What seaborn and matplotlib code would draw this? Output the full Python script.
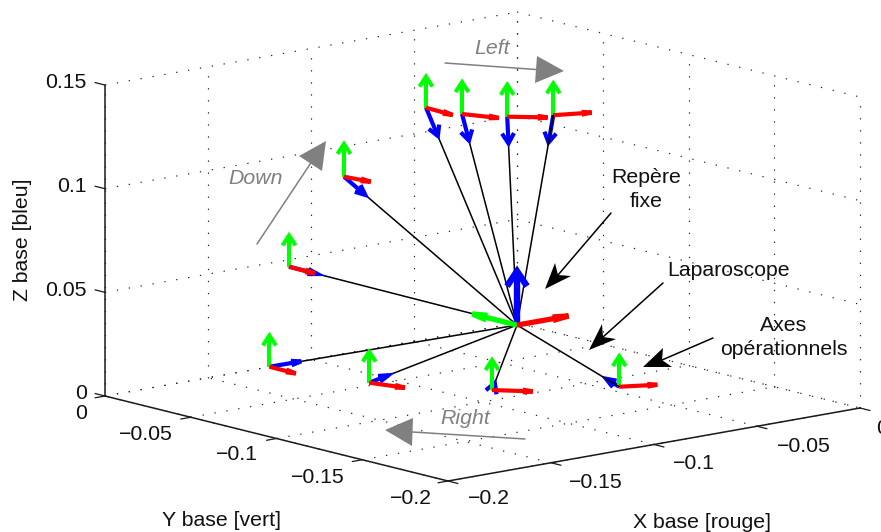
"""Laparoscope frames seen from an orthographic 3D view (drawn by hand on a 2D axes)."""
import matplotlib.pyplot as plt
import numpy as np
import pandas as pd
import seaborn as sns

X_TICKS = [-0.2, -0.15, -0.1, -0.05, 0]
Y_TICKS = [0, -0.05, -0.1, -0.15, -0.2]
Z_TICKS = [0, 0.05, 0.1, 0.15]
X_LABELS = ["\u22120.2", "\u22120.15", "\u22120.1", "\u22120.05", "0"]
Y_LABELS = ["0", "\u22120.05", "\u22120.1", "\u22120.15", "\u22120.2"]
Z_LABELS = ["0", "0.05", "0.1", "0.15"]

# operational frames, base coordinates (metres)
frame_x = [-0.0758, -0.0728, -0.0631, -0.0484, -0.1068, -0.1423, -0.1674, -0.1574, -0.1310, -0.0912]
frame_y = [-0.0380, -0.0554, -0.0701, -0.0793, -0.0274, -0.0380, -0.0567, -0.1029, -0.1428, -0.1692]
frame_z = [0.125, 0.125, 0.125, 0.125, 0.095, 0.06, 0.02, 0.02, 0.02, 0.02]
red_dx = [-0.0008, 0.0058, 0.0106, 0.0139, 0.0018, -0.0003, -0.0002, 0.0044, 0.0100, 0.0130]
red_dy = [-0.0165, -0.0144, -0.0108, -0.0056, -0.0134, -0.0155, -0.0156, -0.0155, -0.0117, -0.0065]
green_dz = [0.0150, 0.0154, 0.0154, 0.0154, 0.0158, 0.0151, 0.0151, 0.0150, 0.0145, 0.0148]
# blue axis points back to the fixed frame, as a fraction of the ray
blue_frac = [0.13, 0.126, 0.128, 0.13, 0.123, 0.125, 0.128, 0.13, 0.11, 0.13]
ray_on_top = [3, 9]

fixed_origin = (0.0, 0.0, -0.001)
fixed_red = 0.025
fixed_green = 0.026
fixed_blue = 0.026

RED, GREEN, BLUE = "#ff0000", "#00ff00", "#0000ff"
GRAY = "#808080"
FONT_SIZE = 15.3


def project(x, y, z):
    """Orthographic view of the base coordinates, in picture pixels."""
    return 517 + 2060 * x - 1715 * y, 323 - 365 * x - 425 * y - 2073 * z


def arrow(ax, start, tip, color, lw, head_len, head_half, zorder=3):
    p0, p1 = np.array(project(*start)), np.array(project(*tip))
    d = (p1 - p0) / np.linalg.norm(p1 - p0)
    n = np.array([-d[1], d[0]])
    b1, b2 = p1 - d * head_len + n * head_half, p1 - d * head_len - n * head_half
    ax.plot([p0[0], p1[0]], [p0[1], p1[1]], color=color, lw=lw, solid_capstyle="butt", zorder=zorder)
    ax.plot([b1[0], p1[0], b2[0]], [b1[1], p1[1], b2[1]], color=color, lw=lw,
            solid_capstyle="butt", solid_joinstyle="miter", zorder=zorder)


def dotted(ax, a, b):
    pa, pb = project(*a), project(*b)
    ax.plot([pa[0], pb[0]], [pa[1], pb[1]], color="#222222", lw=0.85,
            linestyle=(0, (1.1, 9.1)), zorder=1)


def draw_box(ax):
    top = Z_TICKS[-1]
    for x in X_TICKS:
        dotted(ax, (x, -0.2, 0), (x, 0, 0))
        dotted(ax, (x, 0, 0), (x, 0, top))
    for y in Y_TICKS:
        dotted(ax, (-0.2, y, 0), (0, y, 0))
        dotted(ax, (0, y, 0), (0, y, top))
    for z in Z_TICKS:
        dotted(ax, (-0.2, 0, z), (0, 0, z))
        dotted(ax, (0, 0, z), (0, -0.2, z))

    # solid axes
    corners = [(-0.2, 0, top), (-0.2, 0, 0), (-0.2, -0.2, 0), (0, -0.2, 0)]
    px, py = zip(*[project(*c) for c in corners])
    ax.plot(px, py, color="#1a1a1a", lw=1.1, zorder=2, solid_joinstyle="miter")

    # ticks, 10 px long, along the neighbouring axis
    for z in Z_TICKS:
        a = project(-0.2, 0, z)
        ax.plot([a[0], a[0] - 10], [a[1], a[1] - 2.5], color="#1a1a1a", lw=0.9)
    for y in Y_TICKS:
        a = project(-0.2, y, 0)
        ax.plot([a[0], a[0] - 10], [a[1], a[1] + 1.8], color="#1a1a1a", lw=0.9)
    for x in X_TICKS:
        a = project(x, -0.2, 0)
        ax.plot([a[0], a[0] + 10], [a[1], a[1] + 2.5], color="#1a1a1a", lw=0.9)


def draw_tick_labels(ax):
    kw = dict(fontsize=FONT_SIZE, va="center", color="#111111")
    for lab, yy in zip(Z_LABELS, [393.5, 290.5, 186.5, 82.5]):
        ax.text(87, yy, lab, ha="right", **kw)
    for lab, xx, yy in zip(Y_LABELS, [87, 173, 258, 345, 432], [413.5, 434.5, 454.5, 477.5, 498.5]):
        ax.text(xx, yy, lab, ha="right", **kw)
    for lab, xx, yy in zip(X_LABELS, [468, 569, 673, 777, 876], [498.5, 482.5, 463.5, 446.5, 428.5]):
        ax.text(xx, yy, lab, ha="left", **kw)
    ax.text(222, 520.5, "Y base [vert]", ha="center", **kw)
    ax.text(702, 522.5, "X base [rouge]", ha="center", **kw)
    ax.text(23, 240, "Z base [bleu]", ha="center", rotation=90, **kw)


def draw_frames(ax):
    ox, oy, oz = fixed_origin
    rows = []
    for i, (x, y, z) in enumerate(zip(frame_x, frame_y, frame_z)):
        a, b = project(ox, oy, oz), project(x, y, z)
        rows += [dict(px=a[0], py=a[1], frame=i), dict(px=b[0], py=b[1], frame=i)]
    rays = pd.DataFrame(rows)
    top = rays["frame"].isin(ray_on_top)
    sns.lineplot(data=rays[~top], x="px", y="py", units="frame", estimator=None, sort=False,
                 color="black", lw=1.1, legend=False, ax=ax, zorder=2)

    for i, (x, y, z) in enumerate(zip(frame_x, frame_y, frame_z)):
        o = (x, y, z)
        bt = (x + blue_frac[i] * (ox - x), y + blue_frac[i] * (oy - y), z + blue_frac[i] * (oz - z))
        p0, p1 = np.array(project(*o)), np.array(project(*bt))
        dv = p1 - p0
        hw = 1.5 + 4.5 * abs(dv[1]) / np.linalg.norm(dv)  # barbs shrink when seen edge on
        arrow(ax, o, bt, BLUE, 3.0, 10, hw)
        arrow(ax, o, (x, y, z + green_dz[i]), GREEN, 2.9, 10, 6.5)
        arrow(ax, o, (x + red_dx[i], y + red_dy[i], z), RED, 3.0, 10, 1.4)

    sns.lineplot(data=rays[top], x="px", y="py", units="frame", estimator=None, sort=False,
                 color="black", lw=1.1, legend=False, ax=ax, zorder=4)

    arrow(ax, fixed_origin, (ox, oy, oz + fixed_blue), BLUE, 4.6, 15, 10, zorder=5)
    arrow(ax, fixed_origin, (ox, oy + fixed_green, oz), GREEN, 3.8, 15, 2.4, zorder=5)
    arrow(ax, fixed_origin, (ox + fixed_red, oy, oz), RED, 3.8, 16, 1.8, zorder=5)


def draw_notes(ax):
    kw = dict(fontsize=FONT_SIZE, ha="center", va="center", color="#111111", zorder=6)
    ax.text(646, 189.5, "Rep\u00e8re\nfixe", linespacing=1.3, **kw)
    ax.text(729, 271, "Laparoscope", **kw)
    ax.text(784, 337.5, "Axes\nop\u00e9rationnels", linespacing=1.3, **kw)

    # black callouts: line start, tip, barb, notch, barb
    for start, tip, b1, notch, b2 in [
        ((611, 213), (545, 289), (555, 263), (558, 275), (571, 276)),
        ((663, 283), (589, 350), (602, 324), (603, 337), (616, 339)),
        ((713, 338), (643, 367), (663, 348), (662, 360), (672, 367)),
    ]:
        ax.plot([start[0], notch[0]], [start[1], notch[1]], color="black", lw=1.1, zorder=6)
        ax.fill(*zip(tip, b1, notch, b2), color="black", lw=0, zorder=6)

    # gray direction arrows
    gray_kw = dict(fontsize=FONT_SIZE, ha="center", va="center", color=GRAY, style="italic", zorder=6)
    ax.text(492, 48, "Left", **gray_kw)
    ax.text(256, 179, "Down", **gray_kw)
    ax.text(465, 418, "Right", **gray_kw)
    for start, tip, b1, b2 in [
        ((445, 63), (564, 71), (537, 56), (535, 83)),
        ((257, 244), (326, 141), (299, 156), (322, 171)),
        ((525, 439), (385, 430), (413, 418), (412, 446)),
    ]:
        ax.plot([start[0], (b1[0] + b2[0]) / 2], [start[1], (b1[1] + b2[1]) / 2],
                color=GRAY, lw=1.1, zorder=6)
        ax.fill(*zip(tip, b1, b2), color=GRAY, lw=0, zorder=6)


def main():
    sns.set_theme(style="white")
    plt.rcParams["font.family"] = ["Liberation Sans", "DejaVu Sans"]

    fig = plt.figure(figsize=(8.81, 5.32), dpi=100)
    ax = fig.add_axes([0, 0, 1, 1])
    draw_box(ax)
    draw_frames(ax)
    draw_tick_labels(ax)
    draw_notes(ax)
    ax.set_xlim(0, 881)
    ax.set_ylim(532, 0)
    ax.axis("off")
    fig.savefig("out.png", dpi=100)
    plt.close(fig)


if __name__ == "__main__":
    main()
